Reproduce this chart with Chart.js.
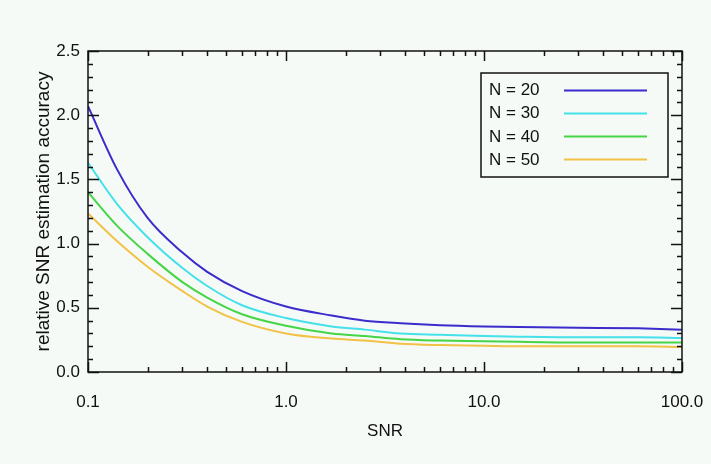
<!DOCTYPE html>
<html>
<head>
<meta charset="utf-8">
<script src="https://cdn.jsdelivr.net/npm/chart.js@4"></script>
<style>
  html, body { margin: 0; padding: 0; background: #f5faf7; }
  #wrap { width: 711px; height: 464px; }
</style>
</head>
<body>
<div id="wrap"><canvas id="snrChart" width="711" height="464"></canvas></div>
<script>
// SNR sample points (log axis) and accuracy curves for each N
const snr = [0.1, 0.14, 0.2, 0.3, 0.4, 0.6, 1.0, 1.7, 2.5, 3.8, 6, 10, 15, 30, 60, 100];
const accN20 = [2.07, 1.58, 1.20, 0.93, 0.78, 0.63, 0.51, 0.44, 0.40, 0.38, 0.365, 0.355, 0.35, 0.345, 0.34, 0.33];
const accN30 = [1.63, 1.31, 1.05, 0.81, 0.67, 0.52, 0.42, 0.355, 0.33, 0.30, 0.29, 0.28, 0.275, 0.27, 0.27, 0.265];
const accN40 = [1.40, 1.14, 0.92, 0.70, 0.58, 0.45, 0.36, 0.30, 0.28, 0.255, 0.245, 0.24, 0.235, 0.23, 0.23, 0.23];
const accN50 = [1.235, 1.02, 0.82, 0.63, 0.51, 0.39, 0.30, 0.26, 0.245, 0.22, 0.21, 0.205, 0.20, 0.20, 0.20, 0.195];

const seriesLabels = ['N = 20', 'N = 30', 'N = 40', 'N = 50'];
const seriesColors = ['#3b2ccb', '#44e1ea', '#46d546', '#f1c246'];

const xTicks = [0.1, 1, 10, 100];
const xTickLabels = ['0.1', '1.0', '10.0', '100.0'];
const yTicks = [0, 0.5, 1.0, 1.5, 2.0, 2.5];
const yTickLabels = ['0.0', '0.5', '1.0', '1.5', '2.0', '2.5'];

const FONT = "'Liberation Sans', Arial, Helvetica, sans-serif";

const toPoints = ys => snr.map((x, i) => ({ x: x, y: ys[i] }));

// box around the plot with inward ticks on all four sides
const frameTicks = {
    id: 'frameTicks',
    afterDatasetsDraw(chart) {
        const { ctx, chartArea: a, scales: { x, y } } = chart;
        ctx.save();
        ctx.strokeStyle = '#111';
        ctx.lineWidth = 1.5;
        ctx.beginPath();

        const xMinor = [];
        for (let d = 0.1; d < 100; d *= 10) {
            for (let m = 2; m <= 9; m++) xMinor.push(d * m);
        }
        const vTick = (v, len) => {
            const px = Math.round(x.getPixelForValue(v)) + 0.5;
            ctx.moveTo(px, a.bottom); ctx.lineTo(px, a.bottom - len);
            ctx.moveTo(px, a.top); ctx.lineTo(px, a.top + len);
        };
        xTicks.forEach(v => vTick(v, 10));
        xMinor.forEach(v => vTick(v, 5));

        for (let i = 0; i <= 25; i++) {
            const v = i / 10;
            const len = i % 5 === 0 ? 11 : 5;
            const py = Math.round(y.getPixelForValue(v)) + 0.5;
            ctx.moveTo(a.left, py); ctx.lineTo(a.left + len, py);
            ctx.moveTo(a.right, py); ctx.lineTo(a.right - len, py);
        }
        ctx.stroke();
        ctx.strokeRect(a.left, a.top, a.right - a.left, a.bottom - a.top);
        ctx.restore();
    }
};

// legend panel: label on the left, line sample on the right
const boxLegend = {
    id: 'boxLegend',
    afterDraw(chart) {
        const ctx = chart.ctx;
        ctx.save();
        ctx.fillStyle = '#f5faf7';
        ctx.fillRect(481, 73, 187, 104);
        ctx.strokeStyle = '#111';
        ctx.lineWidth = 1.5;
        ctx.strokeRect(481, 73, 187, 104);
        ctx.font = '17px ' + FONT;
        ctx.textBaseline = 'middle';
        ctx.textAlign = 'left';
        chart.data.datasets.forEach((ds, i) => {
            const yy = 89.5 + i * 23.3;
            ctx.fillStyle = '#111';
            ctx.fillText(ds.label, 489, yy + 1);
            ctx.strokeStyle = ds.borderColor;
            ctx.lineWidth = 2;
            ctx.beginPath();
            ctx.moveTo(564, Math.round(yy) + 0.5);
            ctx.lineTo(647, Math.round(yy) + 0.5);
            ctx.stroke();
        });
        ctx.restore();
    }
};

new Chart(document.getElementById('snrChart'), {
    type: 'line',
    data: {
        datasets: [accN20, accN30, accN40, accN50].map((ys, i) => ({
            label: seriesLabels[i],
            data: toPoints(ys),
            borderColor: seriesColors[i],
            borderWidth: 2,
            pointRadius: 0,
            cubicInterpolationMode: 'monotone',
            fill: false
        }))
    },
    options: {
        responsive: false,
        animation: false,
        layout: { padding: { top: 51, right: 29, left: 0, bottom: 0 } },
        plugins: { legend: { display: false }, tooltip: { enabled: false } },
        scales: {
            x: {
                type: 'logarithmic',
                min: 0.1,
                max: 100,
                grid: { display: false, drawTicks: false },
                border: { display: false },
                afterBuildTicks: s => { s.ticks = xTicks.map(v => ({ value: v })); },
                afterFit: s => {
                    s.height = 92;
                    s.paddingLeft = 0;
                    s.paddingRight = 0;
                },
                ticks: {
                    autoSkip: false,
                    maxRotation: 0,
                    padding: 20,
                    color: '#111',
                    font: { family: FONT, size: 17 },
                    callback: (v, i) => xTickLabels[i]
                },
                title: {
                    display: true,
                    text: 'SNR',
                    color: '#111',
                    font: { family: FONT, size: 17 },
                    padding: { top: 0, bottom: 22 }
                }
            },
            y: {
                min: 0,
                max: 2.5,
                grid: { display: false, drawTicks: false },
                border: { display: false },
                afterBuildTicks: s => { s.ticks = yTicks.map(v => ({ value: v })); },
                afterFit: s => { s.width = 88; },
                ticks: {
                    padding: 8,
                    color: '#111',
                    font: { family: FONT, size: 17 },
                    callback: (v, i) => yTickLabels[i]
                },
                title: {
                    display: true,
                    text: 'relative SNR estimation accuracy',
                    color: '#111',
                    font: { family: FONT, size: 19 },
                    padding: { top: 32, bottom: 0 }
                }
            }
        }
    },
    plugins: [frameTicks, boxLegend]
});
</script>
</body>
</html>
